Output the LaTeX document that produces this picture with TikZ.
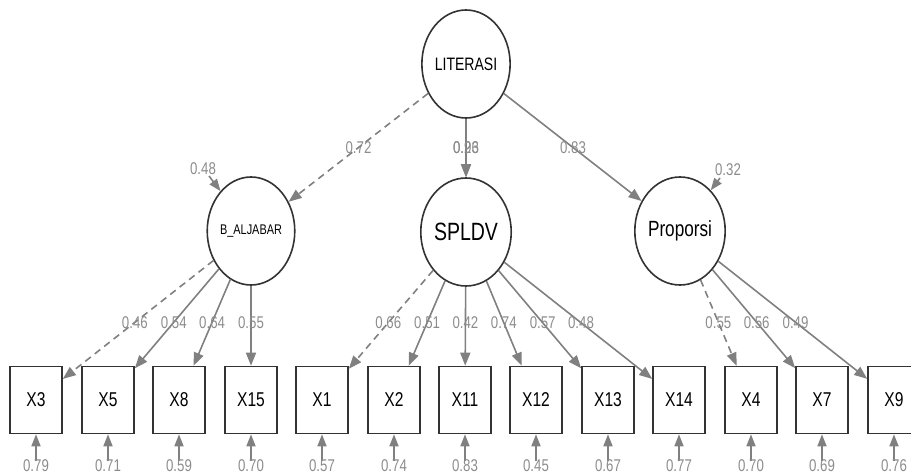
\documentclass[tikz,border=0pt]{standalone}
\usepackage{fontspec}
\setmainfont{Liberation Sans}[FakeStretch=0.78]
\usetikzlibrary{shapes.geometric,arrows.meta,calc}
\begin{document}
\begin{tikzpicture}[x=1pt, y=-1pt,
	lat/.style={ellipse, draw=black!80, line width=1.6pt, fill=white, minimum width=82pt, minimum height=108pt, inner sep=0pt},
	obs/.style={rectangle, draw=black!80, line width=1.6pt, fill=white, minimum width=52pt, minimum height=67pt, inner sep=0pt, font=\fontsize{20}{20}\selectfont},
	load/.style={draw=black!50, line width=1.6pt, -{Triangle[length=13pt, width=10pt]}},
	first/.style={load, dash pattern=on 7pt off 5pt},
	res/.style={draw=black!50, line width=1.6pt, -{Triangle[length=12pt, width=9pt]}},
	coef/.style={text=black!45, inner sep=0pt, font=\fontsize{17}{17}\selectfont}]
		\useasboundingbox (0,0) rectangle (911,474);
		\node[lat, font=\fontsize{18}{18}\selectfont] (LIT) at (466,64) {LITERASI};
		\node[lat, font=\fontsize{14}{14}\selectfont] (BAL) at (251,231) {B\_ALJABAR};
		\node[lat, font=\fontsize{25}{25}\selectfont] (SPL) at (466,232) {SPLDV};
		\node[lat, font=\fontsize{22}{22}\selectfont] (PRO) at (680,231) {Proporsi};
		\foreach \n/\x in {X3/36, X5/108, X8/179, X15/251, X1/322, X2/394, X11/465, X12/536, X13/608, X14/679, X4/751, X7/822, X9/894}
			\node[obs] (\n) at (\x,400) {\n};
		\draw[first] (LIT) -- (BAL);
		\draw[load] (LIT) -- (SPL);
		\draw[load] (LIT) -- (PRO);
		\node[coef] at ($(LIT)!0.5!(BAL)$) {0.72};
		\node[coef] at ($(LIT)!0.5!(SPL)$) {0.26};
		\node[coef] at ($(LIT)!0.5!(PRO)$) {0.83};
		\draw[first] (BAL) -- (X3);
		\draw[first] (SPL) -- (X1);
		\draw[first] (PRO) -- (X4);
		\node[coef] at ($(BAL)!0.54!(X3)$) {0.46};
		\node[coef] at ($(SPL)!0.54!(X1)$) {0.66};
		\node[coef] at ($(PRO)!0.54!(X4)$) {0.55};
		\foreach \f/\t/\v in {BAL/X5/0.54, BAL/X8/0.64, BAL/X15/0.55, SPL/X2/0.51, SPL/X11/0.42, SPL/X12/0.74, SPL/X13/0.57, SPL/X14/0.48, PRO/X7/0.56, PRO/X9/0.49}
		{
			\draw[load] (\f) -- (\t);
			\node[coef] at ($(\f)!0.54!(\t)$) {\v};
		}
		\coordinate (eBAL) at (209,176);
		\coordinate (eSPL) at (466,150);
		\coordinate (ePRO) at (720,178);
		\draw[res] (eBAL) -- (BAL);
		\draw[res] (eSPL) -- (SPL);
		\draw[res] (ePRO) -- (PRO);
		\node[coef] at (203,169) {0.48};
		\node[coef] at ($(LIT)!0.5!(SPL)$) {0.93};
		\node[coef] at (728,170) {0.32};
		\foreach \n/\v in {X3/0.79, X5/0.71, X8/0.59, X15/0.70, X1/0.57, X2/0.74, X11/0.83, X12/0.45, X13/0.67, X14/0.77, X4/0.70, X7/0.69, X9/0.76}
		{
			\coordinate (e\n) at ($(\n.south)+(0,27)$);
			\draw[res] (e\n) -- (\n.south);
			\node[coef] at ($(\n.south)+(0,31)$) {\v};
		}
\end{tikzpicture}
\end{document}
